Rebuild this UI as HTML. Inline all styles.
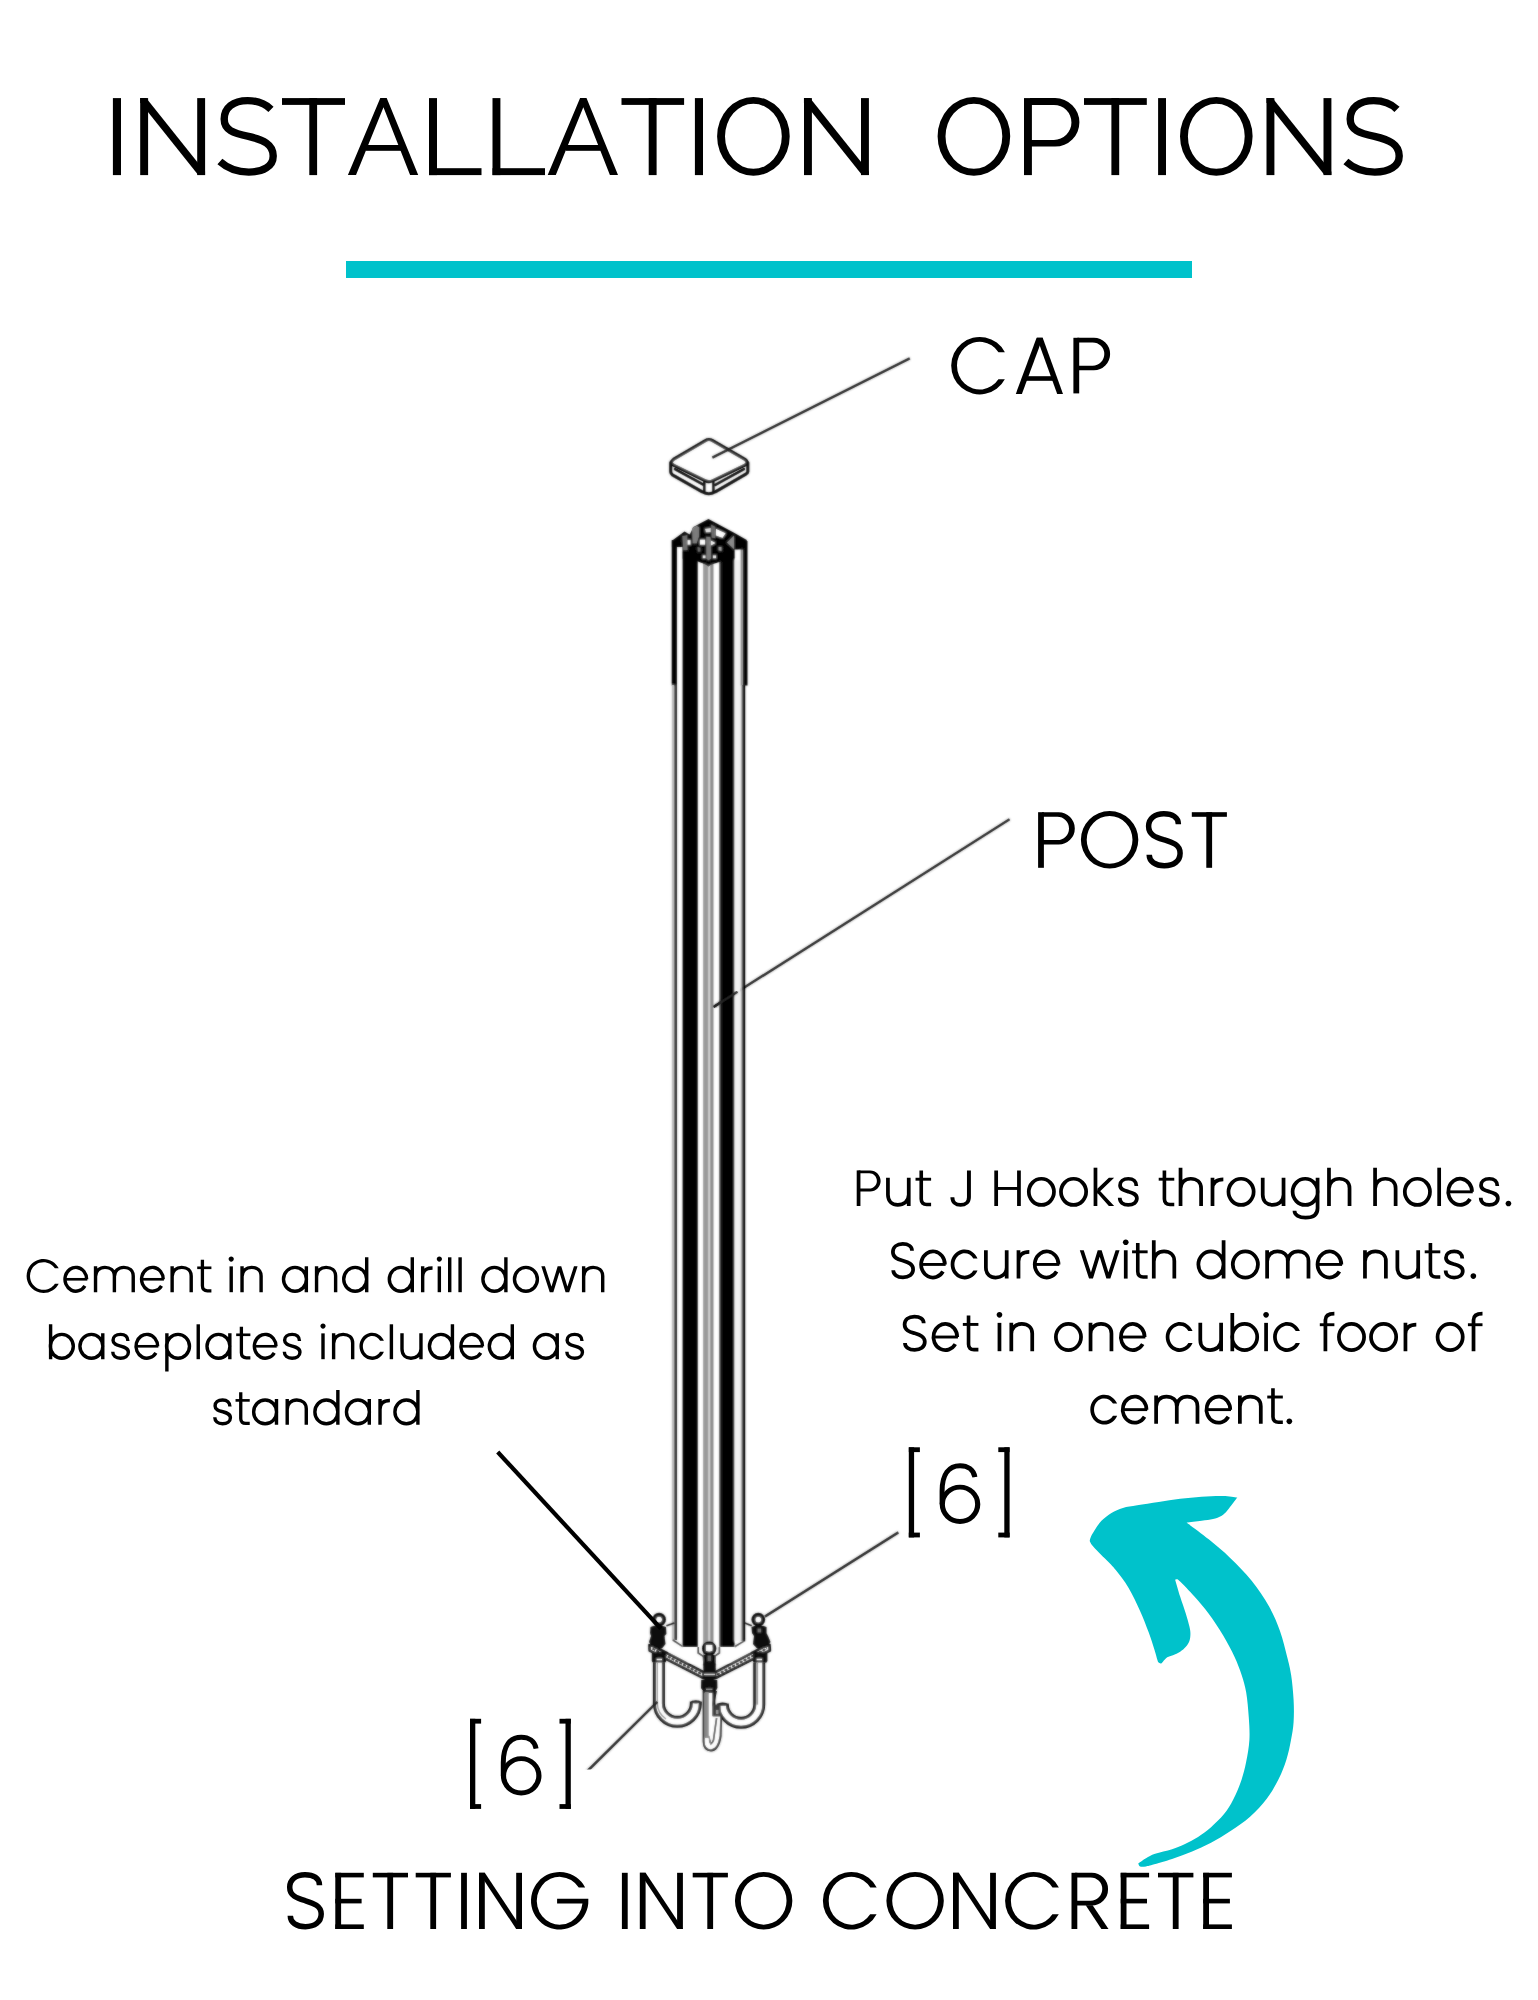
<!DOCTYPE html>
<html><head><meta charset="utf-8"><title>Installation Options</title>
<style>
html,body{margin:0;padding:0;background:#fff;}
body{width:1538px;height:2000px;overflow:hidden;font-family:"Liberation Sans",sans-serif;}
svg{display:block;position:absolute;left:0;top:0;}
.hid text{font-family:"Liberation Sans",sans-serif;fill:#000;fill-opacity:0;}
</style></head><body>
<svg width="1538" height="2000" viewBox="0 0 1538 2000">
<rect width="1538" height="2000" fill="#fff"/>
<g id="title">
<rect x="112.9" y="98.1" width="8.1" height="77" fill="#000" />
<rect x="140.2" y="98.1" width="7.9" height="77" fill="#000" />
<rect x="197.2" y="98.1" width="7.9" height="77" fill="#000" />
<polygon points="140.16,98.1 146.19,98.1 205.08,171.66 205.08,175.09 198.21,175.09 140.16,102.35" fill="#000" />
<path d="M271,109.3 C265,103.5 257,100.6 247.7,100.6 C233,100.6 224.2,108 224.2,119.1 C224.2,130 233,133.3 248.5,136.4 C263,139.8 273.2,144 273.2,156 C273.2,166.5 263,172.1 248.8,172.1 C237,172.1 227,168 219.9,161.6" fill="none" stroke="#000" stroke-width="7.4" />
<rect x="282" y="98.1" width="63" height="6.8" fill="#000" />
<rect x="309.3" y="98.1" width="7.8" height="77" fill="#000" />
<polygon points="347.9,175.1 380.3,98.1 386.7,98.1 418.2,175.1 410.1,175.1 383.5,107.2 356,175.1" fill="#000" />
<rect x="366" y="145" width="35" height="5.8" fill="#000" />
<rect x="429" y="98.1" width="8" height="77" fill="#000" />
<rect x="429" y="168.2" width="52.5" height="6.9" fill="#000" />
<rect x="492.5" y="98.1" width="7.9" height="77" fill="#000" />
<rect x="492.5" y="168.2" width="52.5" height="6.9" fill="#000" />
<polygon points="547.7,175.1 580.1,98.1 586.5,98.1 618,175.1 609.9,175.1 583.3,107.2 555.8,175.1" fill="#000" />
<rect x="565.8" y="145" width="35" height="5.8" fill="#000" />
<rect x="621.5" y="98.1" width="62.6" height="6.8" fill="#000" />
<rect x="648.7" y="98.1" width="7.9" height="77" fill="#000" />
<rect x="694.9" y="98.1" width="8.1" height="77" fill="#000" />
<path d="M717.1,136.35 a36.3,39.35 0 1 0 72.6,0 a36.3,39.35 0 1 0 -72.6,0 Z M725,136.35 a28.4,32.5 0 1 1 56.8,0 a28.4,32.5 0 1 1 -56.8,0 Z" fill="#000" stroke="none" stroke-width="0" fill-rule="evenodd"/>
<rect x="804" y="98.1" width="7.9" height="77" fill="#000" />
<rect x="861" y="98.1" width="7.9" height="77" fill="#000" />
<polygon points="803.96,98.1 809.99,98.1 868.88,171.66 868.88,175.09 862.01,175.09 803.96,102.35" fill="#000" />
<path d="M937.6,136.35 a36.3,39.35 0 1 0 72.6,0 a36.3,39.35 0 1 0 -72.6,0 Z M945.5,136.35 a28.4,32.5 0 1 1 56.8,0 a28.4,32.5 0 1 1 -56.8,0 Z" fill="#000" stroke="none" stroke-width="0" fill-rule="evenodd"/>
<path d="M1030,98.1 H1055.15 A24.25,24.25 0 0 1 1055.15,146.6 H1030 Z M1030,104.9 H1053.95 A17.5,17.5 0 0 1 1053.95,139.9 H1030 Z" fill="#000" stroke="none" stroke-width="0" fill-rule="evenodd"/>
<rect x="1024" y="98.1" width="7.9" height="77" fill="#000" />
<rect x="1084" y="98.1" width="62.8" height="6.8" fill="#000" />
<rect x="1111.4" y="98.1" width="7.8" height="77" fill="#000" />
<rect x="1158.1" y="98.1" width="7.9" height="77" fill="#000" />
<path d="M1180,136.35 a36.3,39.35 0 1 0 72.6,0 a36.3,39.35 0 1 0 -72.6,0 Z M1187.9,136.35 a28.4,32.5 0 1 1 56.8,0 a28.4,32.5 0 1 1 -56.8,0 Z" fill="#000" stroke="none" stroke-width="0" fill-rule="evenodd"/>
<rect x="1266.5" y="98.1" width="7.9" height="77" fill="#000" />
<rect x="1323.5" y="98.1" width="7.9" height="77" fill="#000" />
<polygon points="1266.46,98.1 1272.49,98.1 1331.38,171.66 1331.38,175.09 1324.51,175.09 1266.46,102.35" fill="#000" />
<path d="M1397,109.3 C1391,103.5 1383,100.6 1373.7,100.6 C1359,100.6 1350.2,108 1350.2,119.1 C1350.2,130 1359,133.3 1374.5,136.4 C1389,139.8 1399.2,144 1399.2,156 C1399.2,166.5 1389,172.1 1374.8,172.1 C1363,172.1 1353,168 1345.9,161.6" fill="none" stroke="#000" stroke-width="7.4" />
</g>
<rect x="346" y="261" width="846" height="17" fill="#00c2cb" />
<g id="cap-label">
<path d="M1004.89,352.2 A28.5,28.75 0 1 0 1004.84,379.2 L998.4,379.2 A22.7,23.9 0 1 1 998.46,352.2 Z" fill="#000" stroke="none" stroke-width="0" />
<polygon points="1015.8,393.9 1021.9,393.9 1042.7,337.8 1036.6,337.8" fill="#000" />
<polygon points="1063,393.9 1057.2,393.9 1036.9,337.8 1042.7,337.8" fill="#000" />
<rect x="1024.9" y="376.2" width="29.3" height="4.6" fill="#000" />
<path d="M1077.3,337.8 H1093.9 A16.2,16.2 0 0 1 1093.9,370.2 H1077.3 Z M1077.3,342.4 H1092.65 A11.65,11.65 0 0 1 1092.65,365.7 H1077.3 Z" fill="#000" stroke="none" stroke-width="0" fill-rule="evenodd"/>
<rect x="1073.4" y="337.8" width="5.8" height="55.6" fill="#000" />
</g>
<g id="post-label">
<path d="M1042,812.2 H1058.6 A16.2,16.2 0 0 1 1058.6,844.6 H1042 Z M1042,816.8 H1057.35 A11.65,11.65 0 0 1 1057.35,840.1 H1042 Z" fill="#000" stroke="none" stroke-width="0" fill-rule="evenodd"/>
<rect x="1038.1" y="812.2" width="5.8" height="55.6" fill="#000" />
<path d="M1080.9,839.8 a28.7,28.75 0 1 0 57.4,0 a28.7,28.75 0 1 0 -57.4,0 Z M1086.7,839.8 a22.9,23.9 0 1 1 45.8,0 a22.9,23.9 0 1 1 -45.8,0 Z" fill="#000" stroke="none" stroke-width="0" fill-rule="evenodd"/>
<path d="M1178.4,824.3 C1178.4,817.3 1172.5,813.8 1163.9,813.8 C1154.8,813.8 1148.6,818.6 1148.6,826.3 C1148.6,835.5 1157,837.6 1164.5,839.9 C1172.5,842.4 1180.1,844.8 1180.1,853.2 C1180.1,861.3 1173.5,865.8 1164.3,865.8 C1155.3,865.8 1149.2,861.5 1149.2,854.8" fill="none" stroke="#000" stroke-width="5.5" />
<rect x="1191.8" y="812.2" width="35.1" height="4.6" fill="#000" />
<rect x="1206.3" y="812.2" width="5.8" height="55.6" fill="#000" />
</g>
<g id="setting">
<path d="M319.5,1885.2 C319.5,1878.2 313.6,1874.7 305,1874.7 C295.9,1874.7 289.7,1879.5 289.7,1887.2 C289.7,1896.4 298.1,1898.5 305.6,1900.8 C313.6,1903.3 321.2,1905.7 321.2,1914.1 C321.2,1922.2 314.6,1926.7 305.4,1926.7 C296.4,1926.7 290.3,1922.4 290.3,1915.7" fill="none" stroke="#000" stroke-width="5.5" />
<rect x="335.3" y="1872.8" width="5.8" height="56.2" fill="#000" />
<rect x="335.3" y="1872.8" width="28.5" height="4.6" fill="#000" />
<rect x="335.3" y="1924.4" width="28.5" height="4.6" fill="#000" />
<rect x="335.3" y="1898.8" width="26.3" height="4.6" fill="#000" />
<rect x="372.8" y="1872.8" width="35.2" height="4.6" fill="#000" />
<rect x="387.3" y="1872.8" width="5.8" height="56.2" fill="#000" />
<rect x="415.7" y="1872.8" width="35.2" height="4.6" fill="#000" />
<rect x="430.3" y="1872.8" width="5.8" height="56.2" fill="#000" />
<rect x="461.1" y="1872.8" width="5.8" height="56.2" fill="#000" />
<rect x="479" y="1872.8" width="5.8" height="56.2" fill="#000" />
<rect x="516.2" y="1872.8" width="5.8" height="56.2" fill="#000" />
<polygon points="479,1872.8 484.8,1872.8 522,1929 516.2,1929" fill="#000" />
<path d="M585.17,1887.5 A28.7,28.75 0 1 0 588.28,1903.4 L588.33,1898.7 H557.1 V1903.4 H582.46 A22.9,23.9 0 1 1 578.76,1887.5 Z" fill="#000" stroke="none" stroke-width="0" />
<rect x="621.9" y="1872.8" width="5.8" height="56.2" fill="#000" />
<rect x="639.8" y="1872.8" width="5.8" height="56.2" fill="#000" />
<rect x="677.1" y="1872.8" width="5.8" height="56.2" fill="#000" />
<polygon points="639.8,1872.8 645.6,1872.8 682.9,1929 677.1,1929" fill="#000" />
<rect x="692.7" y="1872.8" width="35.2" height="4.6" fill="#000" />
<rect x="707.3" y="1872.8" width="5.8" height="56.2" fill="#000" />
<path d="M734.95,1900.75 a28.7,28.75 0 1 0 57.4,0 a28.7,28.75 0 1 0 -57.4,0 Z M740.75,1900.75 a22.9,23.9 0 1 1 45.8,0 a22.9,23.9 0 1 1 -45.8,0 Z" fill="#000" stroke="none" stroke-width="0" fill-rule="evenodd"/>
<path d="M876.69,1887.5 A28.5,28.75 0 1 0 876.59,1914.2 L870.16,1914.2 A22.7,23.9 0 1 1 870.29,1887.5 Z" fill="#000" stroke="none" stroke-width="0" />
<path d="M886.4,1900.75 a28.7,28.75 0 1 0 57.4,0 a28.7,28.75 0 1 0 -57.4,0 Z M892.2,1900.75 a22.9,23.9 0 1 1 45.8,0 a22.9,23.9 0 1 1 -45.8,0 Z" fill="#000" stroke="none" stroke-width="0" fill-rule="evenodd"/>
<rect x="953" y="1872.8" width="5.8" height="56.2" fill="#000" />
<rect x="990.1" y="1872.8" width="5.8" height="56.2" fill="#000" />
<polygon points="953,1872.8 958.8,1872.8 995.9,1929 990.1,1929" fill="#000" />
<path d="M1058.89,1887.5 A28.5,28.75 0 1 0 1058.79,1914.2 L1052.36,1914.2 A22.7,23.9 0 1 1 1052.49,1887.5 Z" fill="#000" stroke="none" stroke-width="0" />
<path d="M1075,1872.8 H1091.75 A16.35,16.35 0 0 1 1091.75,1905.5 H1075 Z M1075,1877.4 H1090.65 A11.65,11.65 0 0 1 1090.65,1900.7 H1075 Z" fill="#000" stroke="none" stroke-width="0" fill-rule="evenodd"/>
<rect x="1071.5" y="1872.8" width="5.8" height="56.2" fill="#000" />
<polygon points="1085.7,1905.3 1092.6,1905.3 1108.5,1929 1101.4,1929" fill="#000" />
<rect x="1120.7" y="1872.8" width="5.8" height="56.2" fill="#000" />
<rect x="1120.7" y="1872.8" width="28.4" height="4.6" fill="#000" />
<rect x="1120.7" y="1924.4" width="28.4" height="4.6" fill="#000" />
<rect x="1120.7" y="1898.8" width="26.3" height="4.6" fill="#000" />
<rect x="1158" y="1872.8" width="35.4" height="4.6" fill="#000" />
<rect x="1172.8" y="1872.8" width="5.8" height="56.2" fill="#000" />
<rect x="1203.2" y="1872.8" width="5.8" height="56.2" fill="#000" />
<rect x="1203.2" y="1872.8" width="28.7" height="4.6" fill="#000" />
<rect x="1203.2" y="1924.4" width="28.7" height="4.6" fill="#000" />
<rect x="1203.2" y="1898.8" width="26.7" height="4.6" fill="#000" />
</g>
<g transform="translate(0,0)">
<rect x="908.8" y="1447.3" width="5.3" height="90.1" fill="#000" />
<rect x="908.8" y="1447.3" width="11.1" height="4.8" fill="#000" />
<rect x="908.8" y="1532.6" width="11.1" height="4.8" fill="#000" />
<rect x="1004.3" y="1447.3" width="5.3" height="90.1" fill="#000" />
<rect x="998.3" y="1447.3" width="11.3" height="4.8" fill="#000" />
<rect x="998.3" y="1532.6" width="11.3" height="4.8" fill="#000" />
<path d="M939.7,1504.3 a20.3,19.6 0 1 0 40.6,0 a20.3,19.6 0 1 0 -40.6,0 Z M944.9,1504.3 a15.1,14.8 0 1 1 30.2,0 a15.1,14.8 0 1 1 -30.2,0 Z" fill="#000" stroke="none" stroke-width="0" fill-rule="evenodd"/>
<path d="M974.9,1477.1 C973.6,1469.6 967.5,1465.7 960.1,1465.7 C949,1465.7 942.1,1474 942.1,1491 L942.1,1504.3" fill="none" stroke="#000" stroke-width="5" />
</g>
<g transform="translate(-438.8,271.5)">
<rect x="908.8" y="1447.3" width="5.3" height="90.1" fill="#000" />
<rect x="908.8" y="1447.3" width="11.1" height="4.8" fill="#000" />
<rect x="908.8" y="1532.6" width="11.1" height="4.8" fill="#000" />
<rect x="1004.3" y="1447.3" width="5.3" height="90.1" fill="#000" />
<rect x="998.3" y="1447.3" width="11.3" height="4.8" fill="#000" />
<rect x="998.3" y="1532.6" width="11.3" height="4.8" fill="#000" />
<path d="M939.7,1504.3 a20.3,19.6 0 1 0 40.6,0 a20.3,19.6 0 1 0 -40.6,0 Z M944.9,1504.3 a15.1,14.8 0 1 1 30.2,0 a15.1,14.8 0 1 1 -30.2,0 Z" fill="#000" stroke="none" stroke-width="0" fill-rule="evenodd"/>
<path d="M974.9,1477.1 C973.6,1469.6 967.5,1465.7 960.1,1465.7 C949,1465.7 942.1,1474 942.1,1491 L942.1,1504.3" fill="none" stroke="#000" stroke-width="5" />
</g>
<defs><filter id="soft" x="-5%" y="-5%" width="110%" height="110%"><feGaussianBlur stdDeviation="0.8" result="b"/><feComposite in="SourceGraphic" in2="b" operator="arithmetic" k1="0" k2="0.45" k3="0.55" k4="0"/></filter><filter id="soft2" x="-5%" y="-5%" width="110%" height="110%"><feGaussianBlur stdDeviation="0.8" result="b"/><feComposite in="SourceGraphic" in2="b" operator="arithmetic" k1="0" k2="0.5" k3="0.5" k4="0"/></filter></defs>
<line x1="1009.6" y1="819.3" x2="713.5" y2="1007" stroke="#242424" stroke-width="2.5" filter="url(#soft2)"/>
<g id="cap" filter="url(#soft)" fill="none" stroke="#0a0a0a" stroke-width="3.1" stroke-linejoin="round" stroke-linecap="round">
<path d="M705.4,440.6 Q708.8,438.4 712.6,440.6 L745,459.4 Q749.2,462.3 745,465.2 L713,480.6 Q708.8,482.6 705,480.6 L673.4,465.2 Q669.4,462.3 673.4,459.4 Z" fill="#fff"/>
<path d="M670.7,462.5 L670.7,471.6 Q670.9,474 672.4,474.9 L702.3,491.8 Q708.8,495.8 715.3,491.8 L745.8,474.2 Q747.6,473.3 747.8,471.6 L747.8,462.5"/>
<path d="M675,469.2 L702.9,484.4 M715.3,484.8 L743.9,469.2" stroke-width="2.6"/>
<path d="M704.3,482 V492.4 M713.4,482 V491.8" stroke-width="2.4"/>
</g>
<line x1="909.8" y1="358.4" x2="712.3" y2="457.6" stroke="#242424" stroke-width="2.5" filter="url(#soft2)"/>
<g id="post" filter="url(#soft)">
<rect x="671.7" y="540" width="5.2" height="145.5" fill="#000" />
<rect x="671.8" y="685" width="2.5" height="955" fill="#bdbdbd" />
<rect x="674.3" y="685" width="2.7" height="955" fill="#2a2a2a" />
<rect x="682.6" y="546" width="15.1" height="1101" fill="#000" />
<rect x="703.2" y="561" width="10.2" height="1095" fill="#d2d2d2" />
<rect x="703.2" y="561" width="5" height="1095" fill="#9a9a9a" />
<rect x="710.3" y="561" width="3.1" height="1095" fill="#8a8a8a" />
<rect x="719.2" y="546" width="1.7" height="1101" fill="#555" />
<rect x="720.6" y="546" width="13.9" height="1101" fill="#000" />
<rect x="734.5" y="560" width="6.3" height="1081" fill="#f1f1f1" />
<rect x="742.8" y="541" width="4.7" height="144.5" fill="#000" />
<rect x="740.6" y="541" width="2.2" height="144.5" fill="#8a8a8a" />
<rect x="742.2" y="685" width="3" height="956" fill="#000" />
<rect x="740.8" y="685" width="1.4" height="956" fill="#a8a8a8" />
<polygon points="671.9,540.67 684.48,531.6 689.75,534.53 693.26,526.92 708.47,518.9 733.63,532.48 746.8,540.09 746.8,549.45 734.22,549.45 734.22,558.81 721.93,561.15 710.81,564.66 708.47,566.42 706.13,564.66 697.35,561.15 682.72,558.81 682.72,547.11 676.29,547.11 671.9,547.11" fill="#000" />
<polygon points="716.08,528.68 725.73,533.36 722.51,538.04 715.78,535.41" fill="#fff" />
<polygon points="704.96,528.68 710.81,528.09 710.81,532.19 705.84,532.48" fill="#e2e2e2" />
<polygon points="687.11,540.09 690.62,540.09 690.62,544.77 687.11,544.77" fill="#fff" />
<polygon points="699.99,539.5 705.25,539.5 705.25,544.77 699.99,544.77" fill="#fff" />
<polygon points="710.23,540.09 715.78,543.01 710.81,545.65 710.23,544.77" fill="#f2f2f2" />
<polygon points="702.62,555.3 705.66,555.3 705.66,558.34 702.62,558.34" fill="#f0f0f0" />
<polygon points="713.03,555.3 716.08,555.3 716.08,558.34 713.03,558.34" fill="#f0f0f0" />
<polygon points="697.35,547.11 700.57,547.4 700.57,551.79 697.65,551.79" fill="#6a6a6a" />
<polygon points="718.42,547.11 721.64,547.11 721.64,550.91 718.42,550.62" fill="#a0a0a0" />
<polygon points="692.09,528.09 696.77,525.75 699.4,527.21 699.11,536.58 696.77,543.6 692.38,543.6" fill="#7c7c7c" />
<polygon points="711.1,524.58 715.49,526.63 715.49,538.33 711.4,537.75" fill="#6e6e6e" />
<polygon points="682.14,535.99 687.41,535.11 687.7,550.03 683.31,550.33" fill="#6e6e6e" />
<polygon points="726.9,542.43 733.92,535.41 734.22,549.45" fill="#8a8a8a" />
<polygon points="706.13,536.58 710.81,537.16 711.1,558.81 708.47,560.57 706.25,558.81" fill="#7a7a7a" />
</g>
<line x1="737.5" y1="991.8" x2="713.5" y2="1007" stroke="#242424" stroke-width="2.5" filter="url(#soft2)"/>
<g id="base" filter="url(#soft)">
<polygon points="670,1640.2 682.8,1647.2 698.5,1647.2 698.5,1653 703.5,1656.2 703.5,1662 670,1662" fill="#fff" />
<polygon points="749,1640.5 734.6,1647.2 719,1647.2 719,1653 714,1656.2 714,1662 749,1662" fill="#fff" />
<path d="M672.6,1640 L682.8,1646.6 M745,1640.6 L734.6,1646.8 M698.2,1647 V1653 L703.7,1656.6 M719.4,1647 V1653 L714.2,1656.6" fill="none" stroke="#111" stroke-width="1.6" />
<path d="M649.5,1645.2 L653.7,1646.2 L703,1671.9 L716,1671.9 L764.5,1646.4 L769.5,1645 L769.8,1650.5 L716.5,1677.6 L702.5,1677.6 L649.8,1650.6 Z" fill="#fff" stroke="#0a0a0a" stroke-width="2.7" stroke-linejoin="round"/>
<path d="M652.5,1648.6 L702.8,1674.7 M717,1674.7 L767,1648.4" fill="none" stroke="#0a0a0a" stroke-width="1.9" stroke-dasharray="3 1.3"/>
<circle cx="659.1" cy="1619.6" r="4.9" fill="#fff" stroke="#0a0a0a" stroke-width="4"/>
<path d="M650.5,1627 Q658,1623.5 666,1627 L666.4,1634 L664.5,1636 L665.5,1644 L662,1648.5 L652,1647 L649,1642 L651,1636 L650,1633 Z" fill="#0a0a0a" stroke="none" stroke-width="0" />
<rect x="651.8" y="1651.8" width="14.4" height="11" fill="#0a0a0a" rx="2"/>
<rect x="656.5" y="1658.6" width="5.5" height="1.8" fill="#fff" />
<path d="M666.4,1625.8 L674.4,1622.9" fill="none" stroke="#111" stroke-width="1.6" />
<circle cx="758.3" cy="1619.6" r="4.9" fill="#fff" stroke="#0a0a0a" stroke-width="4"/>
<path d="M751.5,1627 Q758.5,1623.5 766.5,1627 L766.5,1633 L768,1636 L770.5,1642 L767,1647.5 L757,1648.5 L753,1644 L754,1636 L752,1633 Z" fill="#0a0a0a" stroke="none" stroke-width="0" />
<rect x="752.9" y="1651.8" width="14.5" height="11" fill="#0a0a0a" rx="2"/>
<rect x="756.5" y="1658.6" width="5.5" height="1.8" fill="#fff" />
<rect x="757.5" y="1628.5" width="3.5" height="4" fill="#777" />
<path d="M744.7,1622.9 L751.8,1625.8" fill="none" stroke="#111" stroke-width="1.6" />
<circle cx="709.2" cy="1648.6" r="5.2" fill="#fff" stroke="#0a0a0a" stroke-width="4"/>
<rect x="706" y="1645" width="6.5" height="6" fill="#fff" />
<path d="M702.6,1656 Q709,1652 716,1656 L715.6,1672.5 L703.7,1672.5 Z" fill="#0a0a0a" stroke="none" stroke-width="0" />
<rect x="707.5" y="1655.5" width="3.5" height="5.5" fill="#666" />
<polygon points="702.4,1672 716.4,1672 716.6,1677.8 702.4,1677.8" fill="#0a0a0a" />
<rect x="704" y="1673.6" width="11" height="1.6" fill="#ddd" />
<path d="M701.2,1680 Q709,1677 717.2,1680 L717.4,1688 L715,1692.2 L703.8,1692.2 L701,1688 Z" fill="#0a0a0a" stroke="none" stroke-width="0" />
<rect x="706" y="1688.6" width="6.5" height="1.2" fill="#bbb" />
<path d="M658.9,1662.5 V1703.4 A18.45,18.45 0 0 0 695.8,1703.4 V1701.6" fill="none" stroke="#161616" stroke-width="12" stroke-linecap="butt"/>
<path d="M658.9,1662.5 V1703.4 A18.45,18.45 0 0 0 695.8,1703.4 V1701.6" fill="none" stroke="#fff" stroke-width="6" stroke-linecap="butt"/>
<path d="M657.3,1663 V1703.4 A20.05,20.05 0 0 0 666,1719" fill="none" stroke="#8a8a8a" stroke-width="1.2" />
<ellipse cx="695.8" cy="1701.8" rx="4.8" ry="1.6" fill="#111"/>
<path d="M759.25,1662.5 V1704.6 A18.2,18.2 0 0 1 722.85,1704.6 V1703.6" fill="none" stroke="#161616" stroke-width="12" stroke-linecap="butt"/>
<path d="M759.25,1662.5 V1704.6 A18.2,18.2 0 0 1 722.85,1704.6 V1703.6" fill="none" stroke="#fff" stroke-width="6" stroke-linecap="butt"/>
<path d="M757.3,1663 V1704.6" fill="none" stroke="#8a8a8a" stroke-width="1.6" />
<ellipse cx="722.6" cy="1704.2" rx="4.6" ry="1.6" fill="#111"/>
<path d="M703.6,1692 V1741 Q703.8,1750.4 711,1750.4 Q718.5,1750 720.6,1736 L721.2,1716 L713,1705 L715.8,1692 Z" fill="#fff" stroke="#161616" stroke-width="2" />
<rect x="704.6" y="1692" width="4.2" height="46" fill="#8a8a8a" />
<rect x="712.4" y="1692" width="3" height="24" fill="#161616" />
<path d="M709.6,1740 Q711,1746.5 713.5,1740 L716.6,1718" fill="none" stroke="#161616" stroke-width="1.6" />
<path d="M708.8,1736 L711,1745" fill="none" stroke="#777" stroke-width="1.4" />
<polygon points="712.6,1704.6 720.4,1704.6 721.2,1716.4 712.6,1716.4" fill="#3a3a3a" />
<rect x="716" y="1710" width="2.5" height="4" fill="#999" />
</g>
<line x1="497.7" y1="1452" x2="660.9" y2="1628.6" stroke="#000" stroke-width="4.2" />
<line x1="898.4" y1="1532.4" x2="764.8" y2="1616.6" stroke="#242424" stroke-width="2.5" filter="url(#soft2)"/>
<clipPath id="clipLL"><rect x="560" y="1690" width="110" height="79.4"/></clipPath>
<line x1="587" y1="1771.5" x2="657.3" y2="1701.8" stroke="#242424" stroke-width="2.5" clip-path="url(#clipLL)" filter="url(#soft2)"/>
<path d="M1089.73,1541.07 C1089.89,1540.43 1089.97,1538.93 1090.73,1537.21 C1091.49,1535.49 1092.52,1533.51 1094.3,1530.77 C1096.09,1528.03 1098.6,1523.74 1101.46,1520.76 C1104.32,1517.78 1107.89,1515.04 1111.47,1512.89 C1115.05,1510.75 1118.62,1509.15 1122.91,1507.89 C1127.2,1506.62 1131.26,1506.31 1137.22,1505.31 C1143.18,1504.31 1151.52,1502.95 1158.67,1501.88 C1165.82,1500.81 1172.98,1499.73 1180.13,1498.87 C1187.28,1498.02 1194.43,1497.21 1201.58,1496.73 C1208.74,1496.25 1217.08,1495.87 1223.04,1496.01 C1229,1496.16 1234.96,1497.33 1237.35,1497.59 C1236.39,1498.83 1233.53,1502.59 1231.62,1505.03 C1229.72,1507.46 1227.81,1510.27 1225.9,1512.18 C1223.99,1514.09 1222.33,1515.32 1220.18,1516.47 C1218.03,1517.61 1216.13,1518.33 1213.03,1519.04 C1209.93,1519.76 1206,1520.16 1201.58,1520.76 C1197.17,1521.36 1189.07,1522.31 1186.57,1522.62 C1190.26,1525.41 1201.47,1533.47 1208.74,1539.36 C1216.01,1545.24 1223.04,1551.04 1230.19,1557.95 C1237.35,1564.86 1245.16,1572.73 1251.65,1580.84 C1258.13,1588.94 1264.38,1598.24 1269.1,1606.58 C1273.82,1614.93 1276.97,1622.56 1279.97,1630.9 C1282.98,1639.25 1285.26,1649.31 1287.12,1656.65 C1288.98,1663.99 1290.05,1667.73 1291.13,1674.96 C1292.21,1682.18 1293.19,1692.16 1293.6,1700 C1294.01,1707.84 1294.03,1715.33 1293.6,1722 C1293.17,1728.67 1292.19,1733.75 1291,1740 C1289.81,1746.25 1288.51,1753 1286.45,1759.51 C1284.39,1766.01 1281.9,1772.51 1278.65,1779.01 C1275.4,1785.51 1271.71,1792.23 1266.94,1798.52 C1262.18,1804.8 1256.11,1811.3 1250.04,1816.72 C1243.97,1822.14 1237.04,1826.69 1230.53,1831.03 C1224.03,1835.36 1217.53,1839.26 1211.03,1842.73 C1204.53,1846.2 1198.02,1849.12 1191.52,1851.83 C1185.02,1854.54 1178.52,1856.82 1172.02,1858.99 C1165.51,1861.15 1156.84,1863.6 1152.51,1864.84 C1148.18,1866.07 1148.07,1866.12 1146.01,1866.4 C1143.95,1866.68 1141.46,1867 1140.16,1866.53 C1138.86,1866.05 1138.53,1864.04 1138.21,1863.54 C1139.51,1862.67 1143.19,1859.96 1146.01,1858.34 C1148.83,1856.71 1150.78,1855.3 1155.11,1853.78 C1159.45,1852.27 1167.03,1850.86 1172.02,1849.23 C1177,1847.61 1180.68,1846.09 1185.02,1844.03 C1189.35,1841.97 1193.69,1839.7 1198.02,1836.88 C1202.36,1834.06 1206.69,1830.92 1211.03,1827.13 C1215.36,1823.33 1220.35,1818.67 1224.03,1814.12 C1227.72,1809.57 1230.32,1805.24 1233.13,1799.82 C1235.95,1794.4 1238.77,1787.9 1240.94,1781.61 C1243.1,1775.33 1244.73,1769.04 1246.14,1762.11 C1247.55,1755.17 1248.95,1747.38 1249.39,1740 C1249.83,1732.62 1249.33,1725.7 1248.8,1717.8 C1248.27,1709.9 1247.39,1699.74 1246.2,1692.6 C1245.01,1685.46 1243.59,1680.95 1241.64,1674.96 C1239.68,1668.97 1237.58,1663.28 1234.48,1656.65 C1231.39,1650.02 1227.33,1642.35 1223.04,1635.19 C1218.75,1628.04 1213.5,1620.17 1208.74,1613.74 C1203.97,1607.3 1199.2,1601.94 1194.43,1596.57 C1189.66,1591.21 1183.04,1584.44 1180.13,1581.55 C1177.22,1578.67 1177.82,1579.57 1176.98,1579.26 C1176.15,1578.95 1175.43,1579.62 1175.12,1579.69 C1175.96,1582.51 1178.34,1590.9 1180.13,1596.57 C1181.92,1602.25 1184.3,1608.73 1185.85,1613.74 C1187.4,1618.74 1188.66,1623.27 1189.43,1626.61 C1190.19,1629.95 1190.43,1631.38 1190.43,1633.76 C1190.43,1636.15 1190.19,1638.77 1189.43,1640.91 C1188.66,1643.06 1187.4,1644.85 1185.85,1646.64 C1184.3,1648.42 1182.27,1650.21 1180.13,1651.64 C1177.98,1653.07 1175.12,1654.27 1172.98,1655.22 C1170.83,1656.17 1168.92,1656.29 1167.26,1657.36 C1165.59,1658.44 1164.04,1660.63 1162.96,1661.66 C1161.89,1662.68 1161.58,1663.4 1160.82,1663.52 C1160.06,1663.63 1158.98,1663.04 1158.39,1662.37 C1157.79,1661.7 1157.43,1659.99 1157.24,1659.51 C1156.77,1657.84 1155.81,1654.03 1154.38,1649.5 C1152.95,1644.97 1151.04,1638.77 1148.66,1632.33 C1146.28,1625.9 1143.41,1618.27 1140.08,1610.88 C1136.74,1603.49 1132.69,1594.78 1128.63,1587.99 C1124.58,1581.2 1119.34,1574.64 1115.76,1570.11 C1112.18,1565.58 1110.04,1563.79 1107.18,1560.81 C1104.32,1557.83 1101.1,1554.8 1098.6,1552.23 C1096.09,1549.65 1093.64,1547.22 1092.16,1545.36 C1090.68,1543.5 1090.13,1541.79 1089.73,1541.07 Z" fill="#00c2cb" stroke="none" stroke-width="0" />
<g class="para">
<g transform="translate(26.6,1292.2) scale(47.3,-47.3)">
<path transform="translate(0,0)" d="M0.6791,0.505 C0.604,0.6527 0.437,0.7297 0.2755,0.6912 C0.1139,0.6526 0,0.5086 0,0.343 C0,0.1774 0.1139,0.0334 0.2755,-0.0052 C0.437,-0.0437 0.604,0.0333 0.6791,0.181 L0.5978,0.181 C0.5276,0.0739 0.3969,0.0262 0.2758,0.0635 C0.1548,0.1008 0.072,0.2143 0.072,0.343 C0.072,0.4717 0.1548,0.5852 0.2758,0.6225 C0.3969,0.6598 0.5276,0.6121 0.5978,0.505 Z" fill="#000"/>
<path transform="translate(0.7752,0)" d="M0.494,0.273 C0.494,0.3982 0.4105,0.5044 0.2979,0.5224 C0.1853,0.5404 0.0777,0.4646 0.0454,0.3446 C0.0131,0.2245 0.0658,0.0966 0.1691,0.0441 C0.2725,-0.0083 0.3951,0.0307 0.4571,0.1358" fill="none" stroke="#000" stroke-width="0.072"/>
<path transform="translate(0.7752,0)" d="M0.036,0.273 L0.5084,0.273" fill="none" stroke="#000" stroke-width="0.056"/>
<path transform="translate(1.4214,0)" d="M0.036,0 L0.036,0.546 M0.036,0.33 C0.036,0.45 0.1237,0.525 0.2352,0.525 C0.3468,0.525 0.4345,0.46 0.4345,0.34 L0.4345,0 M0.4345,0.33 C0.4345,0.45 0.5222,0.525 0.6338,0.525 C0.7453,0.525 0.833,0.46 0.833,0.34 L0.833,0" fill="none" stroke="#000" stroke-width="0.072"/>
<path transform="translate(2.3946,0)" d="M0.494,0.273 C0.494,0.3982 0.4105,0.5044 0.2979,0.5224 C0.1853,0.5404 0.0777,0.4646 0.0454,0.3446 C0.0131,0.2245 0.0658,0.0966 0.1691,0.0441 C0.2725,-0.0083 0.3951,0.0307 0.4571,0.1358" fill="none" stroke="#000" stroke-width="0.072"/>
<path transform="translate(2.3946,0)" d="M0.036,0.273 L0.5084,0.273" fill="none" stroke="#000" stroke-width="0.056"/>
<path transform="translate(3.0408,0)" d="M0.036,0 L0.036,0.546 M0.036,0.33 C0.036,0.45 0.1247,0.525 0.2375,0.525 C0.3503,0.525 0.439,0.46 0.439,0.34 L0.439,0" fill="none" stroke="#000" stroke-width="0.072"/>
<path transform="translate(3.607,0)" d="M0.11,0.686 L0.11,0.135 C0.11,0.06 0.15,0.03 0.215,0.03 L0.3,0.03" fill="none" stroke="#000" stroke-width="0.0698"/>
<path transform="translate(3.607,0)" d="M0,0.516 L0.3,0.516" fill="none" stroke="#000" stroke-width="0.056"/>
</g>
<g transform="translate(229.5,1292.2) scale(47.3,-47.3)">
<path transform="translate(0,0)" d="M0.036,0 L0.036,0.546" fill="none" stroke="#000" stroke-width="0.072"/>
<path transform="translate(0,0)" d="M0.091,0.7 C0.091,0.7304 0.0664,0.755 0.036,0.755 C0.0056,0.755 -0.019,0.7304 -0.019,0.7 C-0.019,0.6696 0.0056,0.645 0.036,0.645 C0.0664,0.645 0.091,0.6696 0.091,0.7 Z" fill="#000"/>
<path transform="translate(0.229,0)" d="M0.036,0 L0.036,0.546 M0.036,0.33 C0.036,0.45 0.1247,0.525 0.2375,0.525 C0.3503,0.525 0.439,0.46 0.439,0.34 L0.439,0" fill="none" stroke="#000" stroke-width="0.072"/>
</g>
<g transform="translate(281.8,1292.2) scale(47.3,-47.3)">
<path transform="translate(0,0)" d="M0.521,0.273 C0.521,0.4122 0.4124,0.525 0.2785,0.525 C0.1446,0.525 0.036,0.4122 0.036,0.273 C0.036,0.1338 0.1446,0.021 0.2785,0.021 C0.4124,0.021 0.521,0.1338 0.521,0.273 Z M0.519,0 L0.519,0.546" fill="none" stroke="#000" stroke-width="0.072"/>
<path transform="translate(0.6989,0)" d="M0.036,0 L0.036,0.546 M0.036,0.33 C0.036,0.45 0.1247,0.525 0.2375,0.525 C0.3503,0.525 0.439,0.46 0.439,0.34 L0.439,0" fill="none" stroke="#000" stroke-width="0.072"/>
<path transform="translate(1.2729,0)" d="M0.521,0.273 C0.521,0.4122 0.4124,0.525 0.2785,0.525 C0.1446,0.525 0.036,0.4122 0.036,0.273 C0.036,0.1338 0.1446,0.021 0.2785,0.021 C0.4124,0.021 0.521,0.1338 0.521,0.273 Z M0.522,0 L0.522,0.738" fill="none" stroke="#000" stroke-width="0.072"/>
</g>
<g transform="translate(387.6,1292.2) scale(47.3,-47.3)">
<path transform="translate(0,0)" d="M0.521,0.273 C0.521,0.4122 0.4124,0.525 0.2785,0.525 C0.1446,0.525 0.036,0.4122 0.036,0.273 C0.036,0.1338 0.1446,0.021 0.2785,0.021 C0.4124,0.021 0.521,0.1338 0.521,0.273 Z M0.522,0 L0.522,0.738" fill="none" stroke="#000" stroke-width="0.072"/>
<path transform="translate(0.7054,0)" d="M0.036,0 L0.036,0.546 M0.036,0.33 C0.036,0.45 0.115,0.513 0.245,0.513" fill="none" stroke="#000" stroke-width="0.072"/>
<path transform="translate(1.0579,0)" d="M0.036,0 L0.036,0.546" fill="none" stroke="#000" stroke-width="0.072"/>
<path transform="translate(1.0579,0)" d="M0.091,0.7 C0.091,0.7304 0.0664,0.755 0.036,0.755 C0.0056,0.755 -0.019,0.7304 -0.019,0.7 C-0.019,0.6696 0.0056,0.645 0.036,0.645 C0.0664,0.645 0.091,0.6696 0.091,0.7 Z" fill="#000"/>
<path transform="translate(1.2773,0)" d="M0.036,0 L0.036,0.738" fill="none" stroke="#000" stroke-width="0.072"/>
<path transform="translate(1.4967,0)" d="M0.036,0 L0.036,0.738" fill="none" stroke="#000" stroke-width="0.072"/>
</g>
<g transform="translate(481.2,1292.2) scale(47.3,-47.3)">
<path transform="translate(0,0)" d="M0.521,0.273 C0.521,0.4122 0.4124,0.525 0.2785,0.525 C0.1446,0.525 0.036,0.4122 0.036,0.273 C0.036,0.1338 0.1446,0.021 0.2785,0.021 C0.4124,0.021 0.521,0.1338 0.521,0.273 Z M0.522,0 L0.522,0.738" fill="none" stroke="#000" stroke-width="0.072"/>
<path transform="translate(0.6672,0)" d="M0.521,0.273 C0.521,0.4122 0.4124,0.525 0.2785,0.525 C0.1446,0.525 0.036,0.4122 0.036,0.273 C0.036,0.1338 0.1446,0.021 0.2785,0.021 C0.4124,0.021 0.521,0.1338 0.521,0.273 Z" fill="none" stroke="#000" stroke-width="0.072"/>
<path transform="translate(1.2714,0)" d="M0.1777,0 L0.2534,0 L0.0759,0.546 L0.0001,0.546 Z M0.1777,0 L0.2534,0 L0.4209,0.546 L0.3452,0.546 Z M0.5126,0 L0.5884,0 L0.4209,0.546 L0.3452,0.546 Z M0.5126,0 L0.5884,0 L0.7659,0.546 L0.6901,0.546 Z" fill="#000"/>
<path transform="translate(2.1297,0)" d="M0.036,0 L0.036,0.546 M0.036,0.33 C0.036,0.45 0.1247,0.525 0.2375,0.525 C0.3503,0.525 0.439,0.46 0.439,0.34 L0.439,0" fill="none" stroke="#000" stroke-width="0.072"/>
</g>
<g transform="translate(48.9,1359.2) scale(47.3,-47.3)">
<path transform="translate(0,0)" d="M0.516,0.273 C0.516,0.4122 0.4074,0.525 0.2735,0.525 C0.1396,0.525 0.031,0.4122 0.031,0.273 C0.031,0.1338 0.1396,0.021 0.2735,0.021 C0.4074,0.021 0.516,0.1338 0.516,0.273 Z M0.036,0 L0.036,0.738" fill="none" stroke="#000" stroke-width="0.072"/>
<path transform="translate(0.6201,0)" d="M0.521,0.273 C0.521,0.4122 0.4124,0.525 0.2785,0.525 C0.1446,0.525 0.036,0.4122 0.036,0.273 C0.036,0.1338 0.1446,0.021 0.2785,0.021 C0.4124,0.021 0.521,0.1338 0.521,0.273 Z M0.519,0 L0.519,0.546" fill="none" stroke="#000" stroke-width="0.072"/>
<path transform="translate(1.3101,0)" d="M0.36,0.385 C0.36,0.475 0.3,0.525 0.205,0.525 C0.105,0.525 0.046,0.47 0.046,0.4 C0.046,0.315 0.13,0.298 0.205,0.277 C0.29,0.253 0.37,0.232 0.37,0.148 C0.37,0.07 0.3,0.021 0.203,0.021 C0.105,0.021 0.04,0.075 0.04,0.158" fill="none" stroke="#000" stroke-width="0.072"/>
<path transform="translate(1.8052,0)" d="M0.494,0.273 C0.494,0.3982 0.4105,0.5044 0.2979,0.5224 C0.1853,0.5404 0.0777,0.4646 0.0454,0.3446 C0.0131,0.2245 0.0658,0.0966 0.1691,0.0441 C0.2725,-0.0083 0.3951,0.0307 0.4571,0.1358" fill="none" stroke="#000" stroke-width="0.072"/>
<path transform="translate(1.8052,0)" d="M0.036,0.273 L0.5084,0.273" fill="none" stroke="#000" stroke-width="0.056"/>
<path transform="translate(2.4583,0)" d="M0.514,0.273 C0.514,0.4122 0.4054,0.525 0.2715,0.525 C0.1376,0.525 0.029,0.4122 0.029,0.273 C0.029,0.1338 0.1376,0.021 0.2715,0.021 C0.4054,0.021 0.514,0.1338 0.514,0.273 Z M0.036,-0.258 L0.036,0.546" fill="none" stroke="#000" stroke-width="0.072"/>
<path transform="translate(3.1213,0)" d="M0.036,0 L0.036,0.738" fill="none" stroke="#000" stroke-width="0.072"/>
<path transform="translate(3.3064,0)" d="M0.521,0.273 C0.521,0.4122 0.4124,0.525 0.2785,0.525 C0.1446,0.525 0.036,0.4122 0.036,0.273 C0.036,0.1338 0.1446,0.021 0.2785,0.021 C0.4124,0.021 0.521,0.1338 0.521,0.273 Z M0.519,0 L0.519,0.546" fill="none" stroke="#000" stroke-width="0.072"/>
<path transform="translate(3.9595,0)" d="M0.11,0.686 L0.11,0.135 C0.11,0.06 0.15,0.03 0.215,0.03 L0.3,0.03" fill="none" stroke="#000" stroke-width="0.0698"/>
<path transform="translate(3.9595,0)" d="M0,0.516 L0.3,0.516" fill="none" stroke="#000" stroke-width="0.056"/>
<path transform="translate(4.3075,0)" d="M0.494,0.273 C0.494,0.3982 0.4105,0.5044 0.2979,0.5224 C0.1853,0.5404 0.0777,0.4646 0.0454,0.3446 C0.0131,0.2245 0.0658,0.0966 0.1691,0.0441 C0.2725,-0.0083 0.3951,0.0307 0.4571,0.1358" fill="none" stroke="#000" stroke-width="0.072"/>
<path transform="translate(4.3075,0)" d="M0.036,0.273 L0.5084,0.273" fill="none" stroke="#000" stroke-width="0.056"/>
<path transform="translate(4.9376,0)" d="M0.36,0.385 C0.36,0.475 0.3,0.525 0.205,0.525 C0.105,0.525 0.046,0.47 0.046,0.4 C0.046,0.315 0.13,0.298 0.205,0.277 C0.29,0.253 0.37,0.232 0.37,0.148 C0.37,0.07 0.3,0.021 0.203,0.021 C0.105,0.021 0.04,0.075 0.04,0.158" fill="none" stroke="#000" stroke-width="0.072"/>
</g>
<g transform="translate(321.3,1359.2) scale(47.3,-47.3)">
<path transform="translate(0,0)" d="M0.036,0 L0.036,0.546" fill="none" stroke="#000" stroke-width="0.072"/>
<path transform="translate(0,0)" d="M0.091,0.7 C0.091,0.7304 0.0664,0.755 0.036,0.755 C0.0056,0.755 -0.019,0.7304 -0.019,0.7 C-0.019,0.6696 0.0056,0.645 0.036,0.645 C0.0664,0.645 0.091,0.6696 0.091,0.7 Z" fill="#000"/>
<path transform="translate(0.2243,0)" d="M0.036,0 L0.036,0.546 M0.036,0.33 C0.036,0.45 0.1247,0.525 0.2375,0.525 C0.3503,0.525 0.439,0.46 0.439,0.34 L0.439,0" fill="none" stroke="#000" stroke-width="0.072"/>
<path transform="translate(0.8066,0)" d="M0.5171,0.389 C0.4657,0.5137 0.3394,0.5829 0.2144,0.5548 C0.0895,0.5268 0,0.4092 0,0.273 C0,0.1368 0.0895,0.0192 0.2144,-0.0088 C0.3394,-0.0369 0.4657,0.0323 0.5171,0.157 L0.437,0.157 C0.3898,0.076 0.2991,0.0388 0.2146,0.0656 C0.1301,0.0925 0.072,0.177 0.072,0.273 C0.072,0.369 0.1301,0.4535 0.2146,0.4804 C0.2991,0.5072 0.3898,0.47 0.437,0.389 Z" fill="#000"/>
<path transform="translate(1.4459,0)" d="M0.036,0 L0.036,0.738" fill="none" stroke="#000" stroke-width="0.072"/>
<path transform="translate(1.6701,0)" d="M0.036,0.546 L0.036,0.215 C0.036,0.085 0.125,0.021 0.225,0.021 C0.335,0.021 0.437,0.09 0.437,0.215M0.437,0 L0.437,0.546" fill="none" stroke="#000" stroke-width="0.072"/>
<path transform="translate(2.2504,0)" d="M0.521,0.273 C0.521,0.4122 0.4124,0.525 0.2785,0.525 C0.1446,0.525 0.036,0.4122 0.036,0.273 C0.036,0.1338 0.1446,0.021 0.2785,0.021 C0.4124,0.021 0.521,0.1338 0.521,0.273 Z M0.522,0 L0.522,0.738" fill="none" stroke="#000" stroke-width="0.072"/>
<path transform="translate(2.9137,0)" d="M0.494,0.273 C0.494,0.3982 0.4105,0.5044 0.2979,0.5224 C0.1853,0.5404 0.0777,0.4646 0.0454,0.3446 C0.0131,0.2245 0.0658,0.0966 0.1691,0.0441 C0.2725,-0.0083 0.3951,0.0307 0.4571,0.1358" fill="none" stroke="#000" stroke-width="0.072"/>
<path transform="translate(2.9137,0)" d="M0.036,0.273 L0.5084,0.273" fill="none" stroke="#000" stroke-width="0.056"/>
<path transform="translate(3.516,0)" d="M0.521,0.273 C0.521,0.4122 0.4124,0.525 0.2785,0.525 C0.1446,0.525 0.036,0.4122 0.036,0.273 C0.036,0.1338 0.1446,0.021 0.2785,0.021 C0.4124,0.021 0.521,0.1338 0.521,0.273 Z M0.522,0 L0.522,0.738" fill="none" stroke="#000" stroke-width="0.072"/>
</g>
<g transform="translate(532.7,1359.2) scale(47.3,-47.3)">
<path transform="translate(0,0)" d="M0.521,0.273 C0.521,0.4122 0.4124,0.525 0.2785,0.525 C0.1446,0.525 0.036,0.4122 0.036,0.273 C0.036,0.1338 0.1446,0.021 0.2785,0.021 C0.4124,0.021 0.521,0.1338 0.521,0.273 Z M0.519,0 L0.519,0.546" fill="none" stroke="#000" stroke-width="0.072"/>
<path transform="translate(0.6818,0)" d="M0.36,0.385 C0.36,0.475 0.3,0.525 0.205,0.525 C0.105,0.525 0.046,0.47 0.046,0.4 C0.046,0.315 0.13,0.298 0.205,0.277 C0.29,0.253 0.37,0.232 0.37,0.148 C0.37,0.07 0.3,0.021 0.203,0.021 C0.105,0.021 0.04,0.075 0.04,0.158" fill="none" stroke="#000" stroke-width="0.072"/>
</g>
<g transform="translate(212.9,1424.8) scale(47.3,-47.3)">
<path transform="translate(0,0)" d="M0.36,0.385 C0.36,0.475 0.3,0.525 0.205,0.525 C0.105,0.525 0.046,0.47 0.046,0.4 C0.046,0.315 0.13,0.298 0.205,0.277 C0.29,0.253 0.37,0.232 0.37,0.148 C0.37,0.07 0.3,0.021 0.203,0.021 C0.105,0.021 0.04,0.075 0.04,0.158" fill="none" stroke="#000" stroke-width="0.072"/>
<path transform="translate(0.4787,0)" d="M0.11,0.686 L0.11,0.135 C0.11,0.06 0.15,0.03 0.215,0.03 L0.3,0.03" fill="none" stroke="#000" stroke-width="0.0698"/>
<path transform="translate(0.4787,0)" d="M0,0.516 L0.3,0.516" fill="none" stroke="#000" stroke-width="0.056"/>
<path transform="translate(0.8254,0)" d="M0.521,0.273 C0.521,0.4122 0.4124,0.525 0.2785,0.525 C0.1446,0.525 0.036,0.4122 0.036,0.273 C0.036,0.1338 0.1446,0.021 0.2785,0.021 C0.4124,0.021 0.521,0.1338 0.521,0.273 Z M0.519,0 L0.519,0.546" fill="none" stroke="#000" stroke-width="0.072"/>
<path transform="translate(1.5351,0)" d="M0.036,0 L0.036,0.546 M0.036,0.33 C0.036,0.45 0.1247,0.525 0.2375,0.525 C0.3503,0.525 0.439,0.46 0.439,0.34 L0.439,0" fill="none" stroke="#000" stroke-width="0.072"/>
<path transform="translate(2.1198,0)" d="M0.521,0.273 C0.521,0.4122 0.4124,0.525 0.2785,0.525 C0.1446,0.525 0.036,0.4122 0.036,0.273 C0.036,0.1338 0.1446,0.021 0.2785,0.021 C0.4124,0.021 0.521,0.1338 0.521,0.273 Z M0.522,0 L0.522,0.738" fill="none" stroke="#000" stroke-width="0.072"/>
<path transform="translate(2.7876,0)" d="M0.521,0.273 C0.521,0.4122 0.4124,0.525 0.2785,0.525 C0.1446,0.525 0.036,0.4122 0.036,0.273 C0.036,0.1338 0.1446,0.021 0.2785,0.021 C0.4124,0.021 0.521,0.1338 0.521,0.273 Z M0.519,0 L0.519,0.546" fill="none" stroke="#000" stroke-width="0.072"/>
<path transform="translate(3.4973,0)" d="M0.036,0 L0.036,0.546 M0.036,0.33 C0.036,0.45 0.115,0.513 0.245,0.513" fill="none" stroke="#000" stroke-width="0.072"/>
<path transform="translate(3.812,0)" d="M0.521,0.273 C0.521,0.4122 0.4124,0.525 0.2785,0.525 C0.1446,0.525 0.036,0.4122 0.036,0.273 C0.036,0.1338 0.1446,0.021 0.2785,0.021 C0.4124,0.021 0.521,0.1338 0.521,0.273 Z M0.522,0 L0.522,0.738" fill="none" stroke="#000" stroke-width="0.072"/>
</g>
<g transform="translate(856.7,1206) scale(51.9,-51.9)">
<path transform="translate(0,0)" d="M0.036,0.686 L0.2585,0.686 C0.3703,0.686 0.461,0.5953 0.461,0.4835 C0.461,0.3717 0.3703,0.281 0.2585,0.281 L0.036,0.281 Z M0.036,0.63 L0.2425,0.63 C0.3234,0.63 0.389,0.5644 0.389,0.4835 C0.389,0.4026 0.3234,0.337 0.2425,0.337 L0.036,0.337 Z" fill="#000" fill-rule="evenodd"/>
<path transform="translate(0,0)" d="M0.036,0 L0.036,0.686" fill="none" stroke="#000" stroke-width="0.072"/>
<path transform="translate(0.5658,0)" d="M0.036,0.546 L0.036,0.215 C0.036,0.085 0.125,0.021 0.225,0.021 C0.335,0.021 0.437,0.09 0.437,0.215M0.437,0 L0.437,0.546" fill="none" stroke="#000" stroke-width="0.072"/>
<path transform="translate(1.1335,0)" d="M0.11,0.686 L0.11,0.135 C0.11,0.06 0.15,0.03 0.215,0.03 L0.3,0.03" fill="none" stroke="#000" stroke-width="0.0698"/>
<path transform="translate(1.1335,0)" d="M0,0.516 L0.3,0.516" fill="none" stroke="#000" stroke-width="0.056"/>
</g>
<g transform="translate(950.3,1206) scale(54.6419,-51.9)">
<path transform="translate(0,0)" d="M0.341,0.686 L0.341,0.17 C0.341,0.075 0.275,0.021 0.188,0.021 C0.1,0.021 0.038,0.075 0.038,0.17" fill="none" stroke="#000" stroke-width="0.072"/>
</g>
<g transform="translate(994.3,1206) scale(51.9,-51.9)">
<path transform="translate(0,0)" d="M0.036,0 L0.036,0.686 M0.475,0 L0.475,0.686" fill="none" stroke="#000" stroke-width="0.072"/>
<path transform="translate(0,0)" d="M0.036,0.338 L0.475,0.338" fill="none" stroke="#000" stroke-width="0.056"/>
<path transform="translate(0.6288,0)" d="M0.521,0.273 C0.521,0.4122 0.4124,0.525 0.2785,0.525 C0.1446,0.525 0.036,0.4122 0.036,0.273 C0.036,0.1338 0.1446,0.021 0.2785,0.021 C0.4124,0.021 0.521,0.1338 0.521,0.273 Z" fill="none" stroke="#000" stroke-width="0.072"/>
<path transform="translate(1.2486,0)" d="M0.521,0.273 C0.521,0.4122 0.4124,0.525 0.2785,0.525 C0.1446,0.525 0.036,0.4122 0.036,0.273 C0.036,0.1338 0.1446,0.021 0.2785,0.021 C0.4124,0.021 0.521,0.1338 0.521,0.273 Z" fill="none" stroke="#000" stroke-width="0.072"/>
<path transform="translate(1.9134,0)" d="M0.036,0 L0.036,0.738" fill="none" stroke="#000" stroke-width="0.072"/>
<path transform="translate(1.9134,0)" d="M0.072,0.332 L0.072,0.23 L0.396,0.546 L0.294,0.546 Z M0.294,0 L0.396,0 L0.116,0.3 L0.03,0.3 Z" fill="#000"/>
<path transform="translate(2.3772,0)" d="M0.36,0.385 C0.36,0.475 0.3,0.525 0.205,0.525 C0.105,0.525 0.046,0.47 0.046,0.4 C0.046,0.315 0.13,0.298 0.205,0.277 C0.29,0.253 0.37,0.232 0.37,0.148 C0.37,0.07 0.3,0.021 0.203,0.021 C0.105,0.021 0.04,0.075 0.04,0.158" fill="none" stroke="#000" stroke-width="0.072"/>
</g>
<g transform="translate(1158.7,1206) scale(51.9,-51.9)">
<path transform="translate(0,0)" d="M0.11,0.686 L0.11,0.135 C0.11,0.06 0.15,0.03 0.215,0.03 L0.3,0.03" fill="none" stroke="#000" stroke-width="0.0698"/>
<path transform="translate(0,0)" d="M0,0.516 L0.3,0.516" fill="none" stroke="#000" stroke-width="0.056"/>
<path transform="translate(0.3848,0)" d="M0.036,0 L0.036,0.738 M0.036,0.33 C0.036,0.45 0.1231,0.525 0.234,0.525 C0.3449,0.525 0.432,0.46 0.432,0.34 L0.432,0" fill="none" stroke="#000" stroke-width="0.072"/>
<path transform="translate(1.0006,0)" d="M0.036,0 L0.036,0.546 M0.036,0.33 C0.036,0.45 0.115,0.513 0.245,0.513" fill="none" stroke="#000" stroke-width="0.072"/>
<path transform="translate(1.3085,0)" d="M0.521,0.273 C0.521,0.4122 0.4124,0.525 0.2785,0.525 C0.1446,0.525 0.036,0.4122 0.036,0.273 C0.036,0.1338 0.1446,0.021 0.2785,0.021 C0.4124,0.021 0.521,0.1338 0.521,0.273 Z" fill="none" stroke="#000" stroke-width="0.072"/>
<path transform="translate(1.9683,0)" d="M0.036,0.546 L0.036,0.215 C0.036,0.085 0.125,0.021 0.225,0.021 C0.335,0.021 0.437,0.09 0.437,0.215M0.437,0 L0.437,0.546" fill="none" stroke="#000" stroke-width="0.072"/>
<path transform="translate(2.5441,0)" d="M0.521,0.273 C0.521,0.4122 0.4124,0.525 0.2785,0.525 C0.1446,0.525 0.036,0.4122 0.036,0.273 C0.036,0.1338 0.1446,0.021 0.2785,0.021 C0.4124,0.021 0.521,0.1338 0.521,0.273 Z M0.517,0.546 L0.517,-0.045 C0.517,-0.165 0.43,-0.226 0.285,-0.226 C0.165,-0.226 0.072,-0.175 0.072,-0.092" fill="none" stroke="#000" stroke-width="0.072"/>
<path transform="translate(3.2449,0)" d="M0.036,0 L0.036,0.738 M0.036,0.33 C0.036,0.45 0.1231,0.525 0.234,0.525 C0.3449,0.525 0.432,0.46 0.432,0.34 L0.432,0" fill="none" stroke="#000" stroke-width="0.072"/>
</g>
<g transform="translate(1373.2,1206) scale(51.9,-51.9)">
<path transform="translate(0,0)" d="M0.036,0 L0.036,0.738 M0.036,0.33 C0.036,0.45 0.1231,0.525 0.234,0.525 C0.3449,0.525 0.432,0.46 0.432,0.34 L0.432,0" fill="none" stroke="#000" stroke-width="0.072"/>
<path transform="translate(0.573,0)" d="M0.521,0.273 C0.521,0.4122 0.4124,0.525 0.2785,0.525 C0.1446,0.525 0.036,0.4122 0.036,0.273 C0.036,0.1338 0.1446,0.021 0.2785,0.021 C0.4124,0.021 0.521,0.1338 0.521,0.273 Z" fill="none" stroke="#000" stroke-width="0.072"/>
<path transform="translate(1.235,0)" d="M0.036,0 L0.036,0.738" fill="none" stroke="#000" stroke-width="0.072"/>
<path transform="translate(1.4099,0)" d="M0.494,0.273 C0.494,0.3982 0.4105,0.5044 0.2979,0.5224 C0.1853,0.5404 0.0777,0.4646 0.0454,0.3446 C0.0131,0.2245 0.0658,0.0966 0.1691,0.0441 C0.2725,-0.0083 0.3951,0.0307 0.4571,0.1358" fill="none" stroke="#000" stroke-width="0.072"/>
<path transform="translate(1.4099,0)" d="M0.036,0.273 L0.5084,0.273" fill="none" stroke="#000" stroke-width="0.056"/>
<path transform="translate(2.0319,0)" d="M0.36,0.385 C0.36,0.475 0.3,0.525 0.205,0.525 C0.105,0.525 0.046,0.47 0.046,0.4 C0.046,0.315 0.13,0.298 0.205,0.277 C0.29,0.253 0.37,0.232 0.37,0.148 C0.37,0.07 0.3,0.021 0.203,0.021 C0.105,0.021 0.04,0.075 0.04,0.158" fill="none" stroke="#000" stroke-width="0.072"/>
<path transform="translate(2.5509,0)" d="M0.11,0.048 C0.11,0.0784 0.0854,0.103 0.055,0.103 C0.0246,0.103 0,0.0784 0,0.048 C0,0.0176 0.0246,-0.007 0.055,-0.007 C0.0854,-0.007 0.11,0.0176 0.11,0.048 Z" fill="#000"/>
</g>
<g transform="translate(891.1,1278.6) scale(51.9,-51.9)">
<path transform="translate(0,0)" d="M0.4029,0.5371 C0.4029,0.6236 0.33,0.6668 0.2237,0.6668 C0.1112,0.6668 0.0346,0.6075 0.0346,0.5123 C0.0346,0.3986 0.1384,0.3727 0.2311,0.3442 C0.33,0.3133 0.424,0.2837 0.424,0.1798 C0.424,0.0797 0.3424,0.0241 0.2287,0.0241 C0.1174,0.0241 0.042,0.0773 0.042,0.1601" fill="none" stroke="#000" stroke-width="0.072"/>
<path transform="translate(0.5424,0)" d="M0.494,0.273 C0.494,0.3982 0.4105,0.5044 0.2979,0.5224 C0.1853,0.5404 0.0777,0.4646 0.0454,0.3446 C0.0131,0.2245 0.0658,0.0966 0.1691,0.0441 C0.2725,-0.0083 0.3951,0.0307 0.4571,0.1358" fill="none" stroke="#000" stroke-width="0.072"/>
<path transform="translate(0.5424,0)" d="M0.036,0.273 L0.5084,0.273" fill="none" stroke="#000" stroke-width="0.056"/>
<path transform="translate(1.1478,0)" d="M0.5171,0.389 C0.4657,0.5137 0.3394,0.5829 0.2144,0.5548 C0.0895,0.5268 0,0.4092 0,0.273 C0,0.1368 0.0895,0.0192 0.2144,-0.0088 C0.3394,-0.0369 0.4657,0.0323 0.5171,0.157 L0.437,0.157 C0.3898,0.076 0.2991,0.0388 0.2146,0.0656 C0.1301,0.0925 0.072,0.177 0.072,0.273 C0.072,0.369 0.1301,0.4535 0.2146,0.4804 C0.2991,0.5072 0.3898,0.47 0.437,0.389 Z" fill="#000"/>
<path transform="translate(1.7902,0)" d="M0.036,0.546 L0.036,0.215 C0.036,0.085 0.125,0.021 0.225,0.021 C0.335,0.021 0.437,0.09 0.437,0.215M0.437,0 L0.437,0.546" fill="none" stroke="#000" stroke-width="0.072"/>
<path transform="translate(2.4186,0)" d="M0.036,0 L0.036,0.546 M0.036,0.33 C0.036,0.45 0.115,0.513 0.245,0.513" fill="none" stroke="#000" stroke-width="0.072"/>
<path transform="translate(2.732,0)" d="M0.494,0.273 C0.494,0.3982 0.4105,0.5044 0.2979,0.5224 C0.1853,0.5404 0.0777,0.4646 0.0454,0.3446 C0.0131,0.2245 0.0658,0.0966 0.1691,0.0441 C0.2725,-0.0083 0.3951,0.0307 0.4571,0.1358" fill="none" stroke="#000" stroke-width="0.072"/>
<path transform="translate(2.732,0)" d="M0.036,0.273 L0.5084,0.273" fill="none" stroke="#000" stroke-width="0.056"/>
</g>
<g transform="translate(1079.8,1278.6) scale(51.9,-51.9)">
<path transform="translate(0,0)" d="M0.1777,0 L0.2534,0 L0.0759,0.546 L0.0001,0.546 Z M0.1777,0 L0.2534,0 L0.4209,0.546 L0.3452,0.546 Z M0.5126,0 L0.5884,0 L0.4209,0.546 L0.3452,0.546 Z M0.5126,0 L0.5884,0 L0.7659,0.546 L0.6901,0.546 Z" fill="#000"/>
<path transform="translate(0.8495,0)" d="M0.036,0 L0.036,0.546" fill="none" stroke="#000" stroke-width="0.072"/>
<path transform="translate(0.8495,0)" d="M0.091,0.7 C0.091,0.7304 0.0664,0.755 0.036,0.755 C0.0056,0.755 -0.019,0.7304 -0.019,0.7 C-0.019,0.6696 0.0056,0.645 0.036,0.645 C0.0664,0.645 0.091,0.6696 0.091,0.7 Z" fill="#000"/>
<path transform="translate(1.0069,0)" d="M0.11,0.686 L0.11,0.135 C0.11,0.06 0.15,0.03 0.215,0.03 L0.3,0.03" fill="none" stroke="#000" stroke-width="0.0698"/>
<path transform="translate(1.0069,0)" d="M0,0.516 L0.3,0.516" fill="none" stroke="#000" stroke-width="0.056"/>
<path transform="translate(1.3894,0)" d="M0.036,0 L0.036,0.738 M0.036,0.33 C0.036,0.45 0.1231,0.525 0.234,0.525 C0.3449,0.525 0.432,0.46 0.432,0.34 L0.432,0" fill="none" stroke="#000" stroke-width="0.072"/>
</g>
<g transform="translate(1196.5,1278.6) scale(51.9,-51.9)">
<path transform="translate(0,0)" d="M0.521,0.273 C0.521,0.4122 0.4124,0.525 0.2785,0.525 C0.1446,0.525 0.036,0.4122 0.036,0.273 C0.036,0.1338 0.1446,0.021 0.2785,0.021 C0.4124,0.021 0.521,0.1338 0.521,0.273 Z M0.522,0 L0.522,0.738" fill="none" stroke="#000" stroke-width="0.072"/>
<path transform="translate(0.6629,0)" d="M0.521,0.273 C0.521,0.4122 0.4124,0.525 0.2785,0.525 C0.1446,0.525 0.036,0.4122 0.036,0.273 C0.036,0.1338 0.1446,0.021 0.2785,0.021 C0.4124,0.021 0.521,0.1338 0.521,0.273 Z" fill="none" stroke="#000" stroke-width="0.072"/>
<path transform="translate(1.3247,0)" d="M0.036,0 L0.036,0.546 M0.036,0.33 C0.036,0.45 0.1237,0.525 0.2352,0.525 C0.3468,0.525 0.4345,0.46 0.4345,0.34 L0.4345,0 M0.4345,0.33 C0.4345,0.45 0.5222,0.525 0.6338,0.525 C0.7453,0.525 0.833,0.46 0.833,0.34 L0.833,0" fill="none" stroke="#000" stroke-width="0.072"/>
<path transform="translate(2.2966,0)" d="M0.494,0.273 C0.494,0.3982 0.4105,0.5044 0.2979,0.5224 C0.1853,0.5404 0.0777,0.4646 0.0454,0.3446 C0.0131,0.2245 0.0658,0.0966 0.1691,0.0441 C0.2725,-0.0083 0.3951,0.0307 0.4571,0.1358" fill="none" stroke="#000" stroke-width="0.072"/>
<path transform="translate(2.2966,0)" d="M0.036,0.273 L0.5084,0.273" fill="none" stroke="#000" stroke-width="0.056"/>
</g>
<g transform="translate(1363.1,1278.6) scale(51.9,-51.9)">
<path transform="translate(0,0)" d="M0.036,0 L0.036,0.546 M0.036,0.33 C0.036,0.45 0.1247,0.525 0.2375,0.525 C0.3503,0.525 0.439,0.46 0.439,0.34 L0.439,0" fill="none" stroke="#000" stroke-width="0.072"/>
<path transform="translate(0.6245,0)" d="M0.036,0.546 L0.036,0.215 C0.036,0.085 0.125,0.021 0.225,0.021 C0.335,0.021 0.437,0.09 0.437,0.215M0.437,0 L0.437,0.546" fill="none" stroke="#000" stroke-width="0.072"/>
<path transform="translate(1.1871,0)" d="M0.11,0.686 L0.11,0.135 C0.11,0.06 0.15,0.03 0.215,0.03 L0.3,0.03" fill="none" stroke="#000" stroke-width="0.0698"/>
<path transform="translate(1.1871,0)" d="M0,0.516 L0.3,0.516" fill="none" stroke="#000" stroke-width="0.056"/>
<path transform="translate(1.5506,0)" d="M0.36,0.385 C0.36,0.475 0.3,0.525 0.205,0.525 C0.105,0.525 0.046,0.47 0.046,0.4 C0.046,0.315 0.13,0.298 0.205,0.277 C0.29,0.253 0.37,0.232 0.37,0.148 C0.37,0.07 0.3,0.021 0.203,0.021 C0.105,0.021 0.04,0.075 0.04,0.158" fill="none" stroke="#000" stroke-width="0.072"/>
<path transform="translate(2.0692,0)" d="M0.11,0.048 C0.11,0.0784 0.0854,0.103 0.055,0.103 C0.0246,0.103 0,0.0784 0,0.048 C0,0.0176 0.0246,-0.007 0.055,-0.007 C0.0854,-0.007 0.11,0.0176 0.11,0.048 Z" fill="#000"/>
</g>
<g transform="translate(902.8,1351.2) scale(51.9,-51.9)">
<path transform="translate(0,0)" d="M0.4029,0.5371 C0.4029,0.6236 0.33,0.6668 0.2237,0.6668 C0.1112,0.6668 0.0346,0.6075 0.0346,0.5123 C0.0346,0.3986 0.1384,0.3727 0.2311,0.3442 C0.33,0.3133 0.424,0.2837 0.424,0.1798 C0.424,0.0797 0.3424,0.0241 0.2287,0.0241 C0.1174,0.0241 0.042,0.0773 0.042,0.1601" fill="none" stroke="#000" stroke-width="0.072"/>
<path transform="translate(0.5543,0)" d="M0.494,0.273 C0.494,0.3982 0.4105,0.5044 0.2979,0.5224 C0.1853,0.5404 0.0777,0.4646 0.0454,0.3446 C0.0131,0.2245 0.0658,0.0966 0.1691,0.0441 C0.2725,-0.0083 0.3951,0.0307 0.4571,0.1358" fill="none" stroke="#000" stroke-width="0.072"/>
<path transform="translate(0.5543,0)" d="M0.036,0.273 L0.5084,0.273" fill="none" stroke="#000" stroke-width="0.056"/>
<path transform="translate(1.1566,0)" d="M0.11,0.686 L0.11,0.135 C0.11,0.06 0.15,0.03 0.215,0.03 L0.3,0.03" fill="none" stroke="#000" stroke-width="0.0698"/>
<path transform="translate(1.1566,0)" d="M0,0.516 L0.3,0.516" fill="none" stroke="#000" stroke-width="0.056"/>
</g>
<g transform="translate(997.6,1351.2) scale(51.9,-51.9)">
<path transform="translate(0,0)" d="M0.036,0 L0.036,0.546" fill="none" stroke="#000" stroke-width="0.072"/>
<path transform="translate(0,0)" d="M0.091,0.7 C0.091,0.7304 0.0664,0.755 0.036,0.755 C0.0056,0.755 -0.019,0.7304 -0.019,0.7 C-0.019,0.6696 0.0056,0.645 0.036,0.645 C0.0664,0.645 0.091,0.6696 0.091,0.7 Z" fill="#000"/>
<path transform="translate(0.2283,0)" d="M0.036,0 L0.036,0.546 M0.036,0.33 C0.036,0.45 0.1247,0.525 0.2375,0.525 C0.3503,0.525 0.439,0.46 0.439,0.34 L0.439,0" fill="none" stroke="#000" stroke-width="0.072"/>
</g>
<g transform="translate(1054,1351.2) scale(51.9,-51.9)">
<path transform="translate(0,0)" d="M0.521,0.273 C0.521,0.4122 0.4124,0.525 0.2785,0.525 C0.1446,0.525 0.036,0.4122 0.036,0.273 C0.036,0.1338 0.1446,0.021 0.2785,0.021 C0.4124,0.021 0.521,0.1338 0.521,0.273 Z" fill="none" stroke="#000" stroke-width="0.072"/>
<path transform="translate(0.6681,0)" d="M0.036,0 L0.036,0.546 M0.036,0.33 C0.036,0.45 0.1247,0.525 0.2375,0.525 C0.3503,0.525 0.439,0.46 0.439,0.34 L0.439,0" fill="none" stroke="#000" stroke-width="0.072"/>
<path transform="translate(1.2523,0)" d="M0.494,0.273 C0.494,0.3982 0.4105,0.5044 0.2979,0.5224 C0.1853,0.5404 0.0777,0.4646 0.0454,0.3446 C0.0131,0.2245 0.0658,0.0966 0.1691,0.0441 C0.2725,-0.0083 0.3951,0.0307 0.4571,0.1358" fill="none" stroke="#000" stroke-width="0.072"/>
<path transform="translate(1.2523,0)" d="M0.036,0.273 L0.5084,0.273" fill="none" stroke="#000" stroke-width="0.056"/>
</g>
<g transform="translate(1165.7,1351.2) scale(51.9,-51.9)">
<path transform="translate(0,0)" d="M0.5171,0.389 C0.4657,0.5137 0.3394,0.5829 0.2144,0.5548 C0.0895,0.5268 0,0.4092 0,0.273 C0,0.1368 0.0895,0.0192 0.2144,-0.0088 C0.3394,-0.0369 0.4657,0.0323 0.5171,0.157 L0.437,0.157 C0.3898,0.076 0.2991,0.0388 0.2146,0.0656 C0.1301,0.0925 0.072,0.177 0.072,0.273 C0.072,0.369 0.1301,0.4535 0.2146,0.4804 C0.2991,0.5072 0.3898,0.47 0.437,0.389 Z" fill="#000"/>
<path transform="translate(0.6307,0)" d="M0.036,0.546 L0.036,0.215 C0.036,0.085 0.125,0.021 0.225,0.021 C0.335,0.021 0.437,0.09 0.437,0.215M0.437,0 L0.437,0.546" fill="none" stroke="#000" stroke-width="0.072"/>
<path transform="translate(1.2474,0)" d="M0.516,0.273 C0.516,0.4122 0.4074,0.525 0.2735,0.525 C0.1396,0.525 0.031,0.4122 0.031,0.273 C0.031,0.1338 0.1396,0.021 0.2735,0.021 C0.4074,0.021 0.516,0.1338 0.516,0.273 Z M0.036,0 L0.036,0.738" fill="none" stroke="#000" stroke-width="0.072"/>
<path transform="translate(1.8981,0)" d="M0.036,0 L0.036,0.546" fill="none" stroke="#000" stroke-width="0.072"/>
<path transform="translate(1.8981,0)" d="M0.091,0.7 C0.091,0.7304 0.0664,0.755 0.036,0.755 C0.0056,0.755 -0.019,0.7304 -0.019,0.7 C-0.019,0.6696 0.0056,0.645 0.036,0.645 C0.0664,0.645 0.091,0.6696 0.091,0.7 Z" fill="#000"/>
<path transform="translate(2.0687,0)" d="M0.5171,0.389 C0.4657,0.5137 0.3394,0.5829 0.2144,0.5548 C0.0895,0.5268 0,0.4092 0,0.273 C0,0.1368 0.0895,0.0192 0.2144,-0.0088 C0.3394,-0.0369 0.4657,0.0323 0.5171,0.157 L0.437,0.157 C0.3898,0.076 0.2991,0.0388 0.2146,0.0656 C0.1301,0.0925 0.072,0.177 0.072,0.273 C0.072,0.369 0.1301,0.4535 0.2146,0.4804 C0.2991,0.5072 0.3898,0.47 0.437,0.389 Z" fill="#000"/>
</g>
<g transform="translate(1319.8,1351.2) scale(51.9,-51.9)">
<path transform="translate(0,0)" d="M0.108,0 L0.108,0.60 C0.108,0.685 0.165,0.724 0.281,0.724" fill="none" stroke="#000" stroke-width="0.072"/>
<path transform="translate(0,0)" d="M0,0.51 L0.281,0.51" fill="none" stroke="#000" stroke-width="0.056"/>
<path transform="translate(0.3324,0)" d="M0.521,0.273 C0.521,0.4122 0.4124,0.525 0.2785,0.525 C0.1446,0.525 0.036,0.4122 0.036,0.273 C0.036,0.1338 0.1446,0.021 0.2785,0.021 C0.4124,0.021 0.521,0.1338 0.521,0.273 Z" fill="none" stroke="#000" stroke-width="0.072"/>
<path transform="translate(0.9509,0)" d="M0.521,0.273 C0.521,0.4122 0.4124,0.525 0.2785,0.525 C0.1446,0.525 0.036,0.4122 0.036,0.273 C0.036,0.1338 0.1446,0.021 0.2785,0.021 C0.4124,0.021 0.521,0.1338 0.521,0.273 Z" fill="none" stroke="#000" stroke-width="0.072"/>
<path transform="translate(1.6143,0)" d="M0.036,0 L0.036,0.546 M0.036,0.33 C0.036,0.45 0.115,0.513 0.245,0.513" fill="none" stroke="#000" stroke-width="0.072"/>
</g>
<g transform="translate(1435.7,1351.2) scale(51.9,-51.9)">
<path transform="translate(0,0)" d="M0.521,0.273 C0.521,0.4122 0.4124,0.525 0.2785,0.525 C0.1446,0.525 0.036,0.4122 0.036,0.273 C0.036,0.1338 0.1446,0.021 0.2785,0.021 C0.4124,0.021 0.521,0.1338 0.521,0.273 Z" fill="none" stroke="#000" stroke-width="0.072"/>
<path transform="translate(0.6207,0)" d="M0.108,0 L0.108,0.60 C0.108,0.685 0.165,0.724 0.281,0.724" fill="none" stroke="#000" stroke-width="0.072"/>
<path transform="translate(0.6207,0)" d="M0,0.51 L0.281,0.51" fill="none" stroke="#000" stroke-width="0.056"/>
</g>
<g transform="translate(1090.3,1423.8) scale(51.9,-51.9)">
<path transform="translate(0,0)" d="M0.5171,0.389 C0.4657,0.5137 0.3394,0.5829 0.2144,0.5548 C0.0895,0.5268 0,0.4092 0,0.273 C0,0.1368 0.0895,0.0192 0.2144,-0.0088 C0.3394,-0.0369 0.4657,0.0323 0.5171,0.157 L0.437,0.157 C0.3898,0.076 0.2991,0.0388 0.2146,0.0656 C0.1301,0.0925 0.072,0.177 0.072,0.273 C0.072,0.369 0.1301,0.4535 0.2146,0.4804 C0.2991,0.5072 0.3898,0.47 0.437,0.389 Z" fill="#000"/>
<path transform="translate(0.5885,0)" d="M0.494,0.273 C0.494,0.3982 0.4105,0.5044 0.2979,0.5224 C0.1853,0.5404 0.0777,0.4646 0.0454,0.3446 C0.0131,0.2245 0.0658,0.0966 0.1691,0.0441 C0.2725,-0.0083 0.3951,0.0307 0.4571,0.1358" fill="none" stroke="#000" stroke-width="0.072"/>
<path transform="translate(0.5885,0)" d="M0.036,0.273 L0.5084,0.273" fill="none" stroke="#000" stroke-width="0.056"/>
<path transform="translate(1.2321,0)" d="M0.036,0 L0.036,0.546 M0.036,0.33 C0.036,0.45 0.1237,0.525 0.2352,0.525 C0.3468,0.525 0.4345,0.46 0.4345,0.34 L0.4345,0 M0.4345,0.33 C0.4345,0.45 0.5222,0.525 0.6338,0.525 C0.7453,0.525 0.833,0.46 0.833,0.34 L0.833,0" fill="none" stroke="#000" stroke-width="0.072"/>
<path transform="translate(2.2026,0)" d="M0.494,0.273 C0.494,0.3982 0.4105,0.5044 0.2979,0.5224 C0.1853,0.5404 0.0777,0.4646 0.0454,0.3446 C0.0131,0.2245 0.0658,0.0966 0.1691,0.0441 C0.2725,-0.0083 0.3951,0.0307 0.4571,0.1358" fill="none" stroke="#000" stroke-width="0.072"/>
<path transform="translate(2.2026,0)" d="M0.036,0.273 L0.5084,0.273" fill="none" stroke="#000" stroke-width="0.056"/>
<path transform="translate(2.8461,0)" d="M0.036,0 L0.036,0.546 M0.036,0.33 C0.036,0.45 0.1247,0.525 0.2375,0.525 C0.3503,0.525 0.439,0.46 0.439,0.34 L0.439,0" fill="none" stroke="#000" stroke-width="0.072"/>
<path transform="translate(3.4096,0)" d="M0.11,0.686 L0.11,0.135 C0.11,0.06 0.15,0.03 0.215,0.03 L0.3,0.03" fill="none" stroke="#000" stroke-width="0.0698"/>
<path transform="translate(3.4096,0)" d="M0,0.516 L0.3,0.516" fill="none" stroke="#000" stroke-width="0.056"/>
<path transform="translate(3.7802,0)" d="M0.11,0.048 C0.11,0.0784 0.0854,0.103 0.055,0.103 C0.0246,0.103 0,0.0784 0,0.048 C0,0.0176 0.0246,-0.007 0.055,-0.007 C0.0854,-0.007 0.11,0.0176 0.11,0.048 Z" fill="#000"/>
</g>
<g class="hid"><text x="23.32" y="1292.20" font-size="49.2" textLength="188.34" lengthAdjust="spacingAndGlyphs">Cement</text>
<text x="226.38" y="1292.20" font-size="49.2" textLength="39.85" lengthAdjust="spacingAndGlyphs">in</text>
<text x="279.55" y="1292.20" font-size="49.2" textLength="92.31" lengthAdjust="spacingAndGlyphs">and</text>
<text x="385.51" y="1292.20" font-size="49.2" textLength="79.98" lengthAdjust="spacingAndGlyphs">drill</text>
<text x="479.00" y="1292.20" font-size="49.2" textLength="129.35" lengthAdjust="spacingAndGlyphs">down</text>
<text x="45.65" y="1359.20" font-size="49.2" textLength="258.14" lengthAdjust="spacingAndGlyphs">baseplates</text>
<text x="318.03" y="1359.20" font-size="49.2" textLength="199.49" lengthAdjust="spacingAndGlyphs">included</text>
<text x="530.55" y="1359.20" font-size="49.2" textLength="55.74" lengthAdjust="spacingAndGlyphs">as</text>
<text x="210.68" y="1424.80" font-size="49.2" textLength="212.73" lengthAdjust="spacingAndGlyphs">standard</text>
<text x="852.84" y="1206.00" font-size="54.0" textLength="78.33" lengthAdjust="spacingAndGlyphs">Put</text>
<text x="949.36" y="1206.00" font-size="54.0" textLength="25.28" lengthAdjust="spacingAndGlyphs">J</text>
<text x="990.37" y="1206.00" font-size="54.0" textLength="150.46" lengthAdjust="spacingAndGlyphs">Hooks</text>
<text x="1157.62" y="1206.00" font-size="54.0" textLength="197.17" lengthAdjust="spacingAndGlyphs">through</text>
<text x="1369.11" y="1206.00" font-size="54.0" textLength="147.42" lengthAdjust="spacingAndGlyphs">holes.</text>
<text x="888.04" y="1278.60" font-size="54.0" textLength="174.51" lengthAdjust="spacingAndGlyphs">Secure</text>
<text x="1079.80" y="1278.60" font-size="54.0" textLength="99.54" lengthAdjust="spacingAndGlyphs">with</text>
<text x="1194.26" y="1278.60" font-size="54.0" textLength="151.28" lengthAdjust="spacingAndGlyphs">dome</text>
<text x="1358.91" y="1278.60" font-size="54.0" textLength="122.61" lengthAdjust="spacingAndGlyphs">nuts.</text>
<text x="899.89" y="1351.20" font-size="54.0" textLength="78.57" lengthAdjust="spacingAndGlyphs">Set</text>
<text x="993.43" y="1351.20" font-size="54.0" textLength="43.83" lengthAdjust="spacingAndGlyphs">in</text>
<text x="1051.85" y="1351.20" font-size="54.0" textLength="96.92" lengthAdjust="spacingAndGlyphs">one</text>
<text x="1163.50" y="1351.20" font-size="54.0" textLength="138.67" lengthAdjust="spacingAndGlyphs">cubic</text>
<text x="1318.74" y="1351.20" font-size="54.0" textLength="98.69" lengthAdjust="spacingAndGlyphs">foor</text>
<text x="1433.52" y="1351.20" font-size="54.0" textLength="49.03" lengthAdjust="spacingAndGlyphs">of</text>
<text x="1088.12" y="1423.80" font-size="54.0" textLength="209.64" lengthAdjust="spacingAndGlyphs">cement.</text>
<text x="108" y="175" font-size="106" textLength="1300" lengthAdjust="spacingAndGlyphs">INSTALLATION  OPTIONS</text>
<text x="948" y="394" font-size="80" textLength="165" lengthAdjust="spacingAndGlyphs">CAP</text>
<text x="1034" y="868" font-size="80" textLength="196" lengthAdjust="spacingAndGlyphs">POST</text>
<text x="905" y="1524" font-size="84" textLength="108" lengthAdjust="spacingAndGlyphs">[6]</text>
<text x="466" y="1795" font-size="84" textLength="108" lengthAdjust="spacingAndGlyphs">[6]</text>
<text x="284" y="1929" font-size="80" textLength="950" lengthAdjust="spacingAndGlyphs">SETTING INTO CONCRETE</text></g>
</g>
</svg>
</body></html>
